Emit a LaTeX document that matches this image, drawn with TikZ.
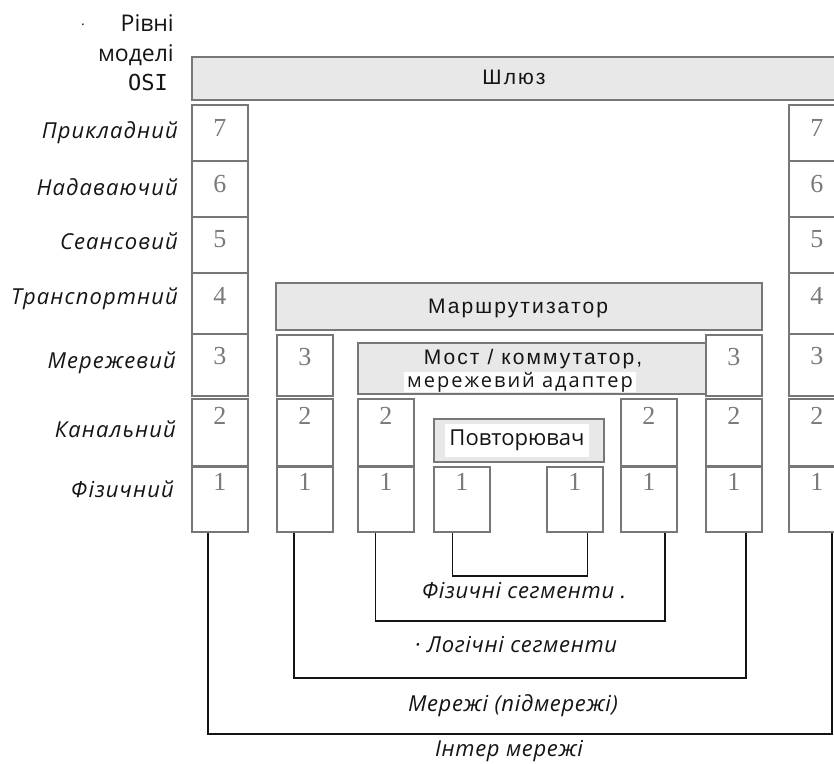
\documentclass[tikz,border=0pt]{standalone}
\usepackage{fontspec}
\setmainfont{Open Sans}
\newfontfamily\devfont[LetterSpace=10]{Liberation Sans}
\newfontfamily\hlfont[LetterSpace=10]{Open Sans}
\newfontfamily\lvlfont[LetterSpace=5]{Open Sans}
\newfontfamily\segfont[LetterSpace=3]{Open Sans}
\newfontfamily\numfont{Liberation Serif}
\newfontfamily\osifont{DejaVu Sans Mono}
\definecolor{edge}{HTML}{777777}
\definecolor{devfill}{HTML}{E8E8E8}
\definecolor{numgray}{HTML}{7A7A7A}
\definecolor{ink}{HTML}{141414}

\tikzset{
  lay/.style={draw=edge, line width=1.7pt, fill=white, inner sep=0pt,
    anchor=north west, minimum width=56pt},
  dev/.style={draw=edge, line width=1.7pt, fill=devfill, inner sep=0pt,
    anchor=north west},
  devtext/.style={font=\devfont\fontsize{21}{24}\selectfont, text=ink,
    inner sep=0pt, anchor=base},
  num/.style={font=\numfont\fontsize{26}{26}\selectfont, text=numgray,
    anchor=north, inner sep=0pt},
  lvl/.style={font=\lvlfont\itshape\fontsize{22}{26}\selectfont, text=ink,
    anchor=base east, inner sep=0pt},
  seg/.style={font=\segfont\itshape\fontsize{22}{26}\selectfont, text=ink,
    inner sep=0pt, anchor=base},
  head/.style={font=\fontsize{23}{26}\selectfont, text=ink,
    anchor=base east, inner sep=0pt},
  hl/.style={fill=white, text=ink, inner sep=0pt},
  bracket/.style={draw=ink, line width=1.7pt},
}

% one column of OSI layer boxes: name, left x, list of row/top/bottom/digit offset
\newcommand\layercol[3]{%
  \foreach \r/\t/\b/\o in {#3}{%
    \node[lay, minimum height={(\b-\t)*1pt}] (#1\r) at (#2,\t) {};
    \node[num] (#1\r-n) at ([yshift=-\o pt]#1\r.north) {\r};
  }%
}

\begin{document}
\begin{tikzpicture}[x=1pt, y=-1pt]
\useasboundingbox (0,0) rectangle (834,763);
\clip (0,0) rectangle (834,763);

% heading of the level column
\node[head] (hd1) at (174,31) {Рівні};
\node[head] (hd2) at (174,61) {моделі};
\node[head, font=\osifont\fontsize{22}{26}\selectfont] (hd3) at (168,90) {OSI};
\node[font=\fontsize{14}{14}\selectfont, text=ink, inner sep=0pt] (hdot) at (83,25) {.};

% level names
\node[lvl] (l7) at (178,138) {Прикладний};
\node[lvl] (l6) at (178,195) {Надаваючий};
\node[lvl] (l5) at (178,249) {Сеансовий};
\node[lvl] (l4) at (178,304) {Транспортний};
\node[lvl] (l3) at (176,368) {Мережевий};
\node[lvl] (l2) at (176,437) {Канальний};
\node[lvl] (l1) at (174,497) {Фізичний};

% devices
\node[dev, minimum width=660pt, minimum height=43pt] (gw) at (191,56) {};
\node[devtext] (gwt) at (514,84) {Шлюз};
\node[dev, minimum width=486pt, minimum height=47pt] (rt) at (275,282) {};
\node[devtext] (rtt) at (518,313) {Маршрутизатор};
\node[dev, minimum width=349pt, minimum height=51pt] (br) at (357,342) {};
\node[devtext] (brt1) at (533,364) {Мост / коммутатор,};
\node[hl, anchor=base, inner xsep=3pt, inner ysep=0pt, font=\hlfont\fontsize{20}{24}\selectfont] (brt2) at (520,387) {мережевий адаптер};
\node[dev, minimum width=170pt, minimum height=43pt] (rp) at (433,418) {};
\node[hl, minimum width=144pt, minimum height=33pt, font=\fontsize{22}{24}\selectfont] (rpt) at (517,440.5) {Повторювач};

% layer stacks
\layercol{A}{191}{7/104/160/15,6/160/216/15,5/216/272/14,4/272/333/15,3/333/395/14,2/398/465/9,1/466/531/7}
\layercol{B}{276}{3/334/395/14,2/398/465/9,1/466/531/7}
\layercol{C}{357}{2/398/465/9,1/466/531/7}
\layercol{D}{433}{1/466/531/7}
\layercol{E}{546}{1/466/531/7}
\layercol{F}{620}{2/398/465/9,1/466/531/7}
\layercol{G}{705}{3/334/395/14,2/398/465/9,1/466/531/7}
\layercol{H}{788}{7/104/160/15,6/160/216/15,5/216/272/14,4/272/333/15,3/333/395/14,2/398/465/9,1/466/531/7}

% segment brackets
\draw[bracket] ([xshift=-9.5pt]D1.south) -- ++(0,43) -| ([xshift=12.5pt]E1.south);
\draw[bracket] ([xshift=-10.5pt]C1.south) -- ++(0,88) -| ([xshift=16pt]F1.south);
\draw[bracket] ([xshift=-11pt]B1.south) -- ++(0,145) -| ([xshift=12pt]G1.south);
\draw[bracket] ([xshift=-12pt]A1.south) -- ++(0,201) -| ([xshift=15pt]H1.south);

\node[seg] (s1) at (524,598) {Фізичні сегменти .};
\node[seg] (s2) at (516,652) {· Логічні сегменти};
\node[seg] (s3) at (513,711) {Мережі (підмережі)};
\node[seg] (s4) at (509,756) {Інтер мережі};
\end{tikzpicture}
\end{document}
